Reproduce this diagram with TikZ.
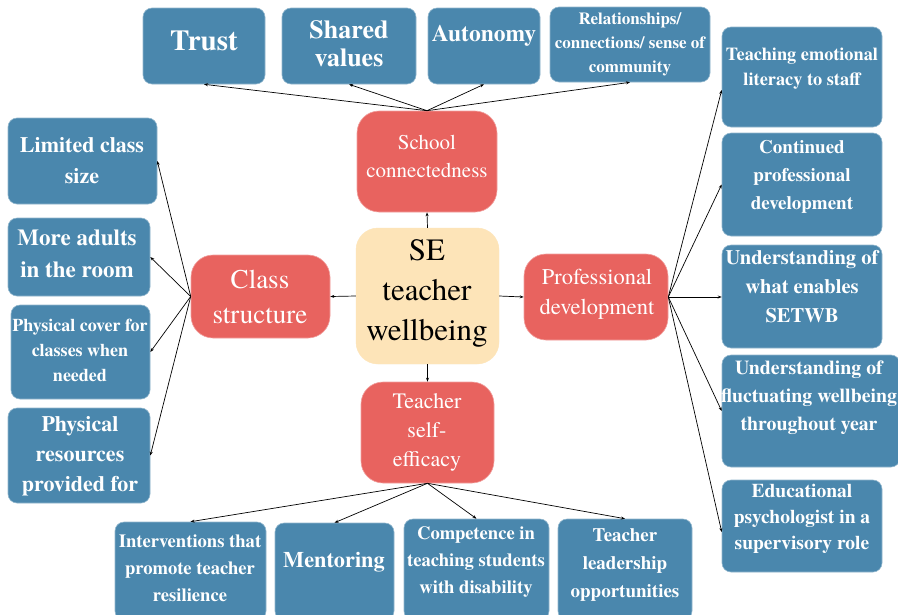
\documentclass[tikz,border=0pt]{standalone}
\usepackage{fontspec}
\IfFontExistsTF{texgyretermes-regular.otf}{%
  \setmainfont{texgyretermes}[Extension=.otf,UprightFont=*-regular,BoldFont=*-bold,ItalicFont=*-italic,BoldItalicFont=*-bolditalic]}{%
  \setmainfont{Liberation Serif}}
\usetikzlibrary{arrows.meta}
\definecolor{bxblue}{RGB}{74,135,173}
\definecolor{bxred}{RGB}{232,99,95}
\definecolor{bxcream}{RGB}{253,228,184}
\newcommand\fs[2]{\fontsize{#1}{#2}\selectfont}
\tikzset{
  bluebox/.style={fill=bxblue, draw=bxblue!60!white, line width=0.6pt, rounded corners=9pt, inner sep=0pt},
  redbox/.style={fill=bxred, draw=bxred!60!white, line width=0.6pt, rounded corners=22pt, inner sep=0pt},
  creambox/.style={fill=bxcream, draw=bxcream, rounded corners=22pt, inner sep=0pt},
  btxt/.style={text=white, font=\bfseries, align=center, inner sep=0pt},
  rtxt/.style={text=white, align=center, inner sep=0pt},
  ctxt/.style={text=black, align=center, inner sep=0pt},
  link/.style={-{Stealth[length=4pt,width=3pt]}, line width=0.7pt, black}
}
\newcommand\bx[6]{% style, name, x1, y1, x2, y2
  \pgfmathsetmacro\cx{(#3+#5)/2}\pgfmathsetmacro\cy{(#4+#6)/2}
  \pgfmathsetmacro\ww{#5-#3}\pgfmathsetmacro\hh{#6-#4}
  \node[#1, minimum width=\ww pt, minimum height=\hh pt] (#2) at (\cx,\cy) {};}
\begin{document}
\begin{tikzpicture}[x=1pt,y=-1pt]
\useasboundingbox[fill=white] (0,0) rectangle (898,614);
% top row
\bx{bluebox}{trust}{143}{8}{265}{84}
\bx{bluebox}{shared}{282}{8}{416}{84}
\bx{bluebox}{auto}{428}{8}{540}{84}
\bx{bluebox}{rel}{550}{7}{710}{82}
% centre
\bx{redbox}{school}{357}{111}{497}{212}
\bx{creambox}{se}{356}{228}{499}{364}
\bx{redbox}{class}{191}{255}{330}{338}
\bx{redbox}{prof}{524}{254}{668}{340}
\bx{redbox}{self}{361}{382}{494}{483}
% left column
\bx{bluebox}{limited}{8}{118}{157}{204}
\bx{bluebox}{adults}{8}{218}{150}{296}
\bx{bluebox}{cover}{11}{305}{150}{399}
\bx{bluebox}{resources}{8}{408}{150}{503}
% right column
\bx{bluebox}{emot}{722}{27}{882}{127}
\bx{bluebox}{cpd}{722}{133}{882}{236}
\bx{bluebox}{enables}{722}{245}{882}{348}
\bx{bluebox}{fluct}{722}{355}{900}{467}
\bx{bluebox}{edpsy}{722}{480}{882}{572}
% bottom row
\bx{bluebox}{interv}{115}{522}{266}{620}
\bx{bluebox}{mentor}{275}{523}{394}{620}
\bx{bluebox}{compet}{404}{519}{549}{620}
\bx{bluebox}{lead}{558}{519}{692}{620}
% texts
\node[btxt, font=\bfseries\fs{29}{30}] (trust-t) at (204,41) {Trust};
\node[btxt, font=\bfseries\fs{26}{28}] (shared-t) at (349,44) {Shared\\values};
\node[btxt, font=\bfseries\fs{23.5}{25}] (auto-t) at (484,36) {Autonomy};
\node[btxt, font=\bfseries\fs{17}{24}] (rel-t) at (630,44) {Relationships/\\connections/ sense of\\community};
\node[rtxt, font=\fs{21}{28}] (school-t) at (427,156) {School\\connectedness};
\node[ctxt, font=\fs{31}{40}] (se-t) at (427,293) {SE\\teacher\\wellbeing};
\node[rtxt, font=\fs{27}{35}] (class-t) at (260,297) {Class\\structure};
\node[rtxt, font=\fs{22.5}{30}] (prof-t) at (597,294) {Professional\\development};
\node[rtxt, font=\fs{22}{29}] (self-t) at (427,432) {Teacher\\self-\\efficacy};
\node[btxt, font=\bfseries\fs{22}{31}] (limited-t) at (82,161) {Limited class\\size};
\node[btxt, font=\bfseries\fs{23}{32}] (adults-t) at (77,254) {More adults\\in the room};
\node[btxt, font=\bfseries\fs{18}{25}] (cover-t) at (80,350) {Physical cover for\\classes when\\needed};
\node[btxt, font=\bfseries\fs{22}{30}] (resources-t) at (80,456) {Physical\\resources\\provided for};
\node[btxt, font=\bfseries\fs{18.3}{25}] (emot-t) at (802,69) {Teaching emotional\\literacy to staff};
\node[btxt, font=\bfseries\fs{19}{28}] (cpd-t) at (802,177) {Continued\\professional\\development};
\node[btxt, font=\bfseries\fs{20.5}{29}] (enables-t) at (802,287) {Understanding of\\what enables\\SETWB};
\node[btxt, font=\bfseries\fs{19.8}{28}] (fluct-t) at (809,398) {Understanding of\\fluctuating wellbeing\\throughout year};
\node[btxt, font=\bfseries\fs{19.5}{26}] (edpsy-t) at (802,519) {Educational\\psychologist in a\\supervisory role};
\node[btxt, font=\bfseries\fs{18.6}{27}] (interv-t) at (190,568) {Interventions that\\promote teacher\\resilience};
\node[btxt, font=\bfseries\fs{22.3}{25}] (mentor-t) at (334,562) {Mentoring};
\node[btxt, font=\bfseries\fs{18.6}{27}] (compet-t) at (476,562) {Competence in\\teaching students\\with disability};
\node[btxt, font=\bfseries\fs{19}{28}] (lead-t) at (625,565) {Teacher\\leadership\\opportunities};
% centre arrows
\draw[link] (se.north) -- (school.south);
\draw[link] (se.west) -- (class.east);
\draw[link] (se.east) -- (prof.east -| prof.west);
\draw[link] (se.south) -- (self.north);
% school connectedness
\draw[link] (school.north) -- (trust.south);
\draw[link] (school.north) -- (shared.south);
\draw[link] (school.north) -- (auto.south);
\draw[link] (school.north) -- (rel.south);
% class structure
\draw[link] (class.west) -- (limited.east);
\draw[link] (class.west) -- (adults.east);
\draw[link] (class.west) -- (cover.east);
\draw[link] (class.west) -- (resources.east);
% professional development
\draw[link] (prof.east) -- ([yshift=-13pt]emot.west);
\draw[link] (prof.east) -- (cpd.west);
\draw[link] (prof.east) -- (prof.east -| enables.west);
\draw[link] (prof.east) -- (fluct.west);
\draw[link] (prof.east) -- ([yshift=-6pt]edpsy.west);
% teacher self-efficacy
\draw[link] (self.south) -- (interv.north);
\draw[link] (self.south) -- (mentor.north);
\draw[link] (self.south) -- (compet.north);
\draw[link] (self.south) -- (lead.north);
\end{tikzpicture}
\end{document}
